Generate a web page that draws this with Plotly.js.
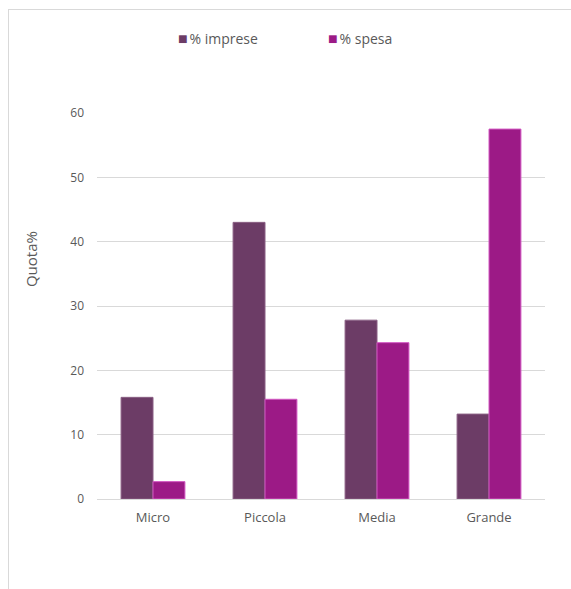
<!DOCTYPE html>
<html>
<head>
<meta charset="utf-8">
<script src="https://cdn.plot.ly/plotly-3.0.1.min.js"></script>
<style>
  html, body { margin: 0; padding: 0; background: #ffffff; }
  #frame { position: absolute; left: 8px; top: 9px; width: 600px; height: 620px;
           border-top: 1px solid #d9d9d9; border-left: 1px solid #d9d9d9; }
  #chart { position: absolute; left: 0; top: 0; width: 571px; height: 589px; }
</style>
</head>
<body>
<div id="frame"></div>
<div id="chart"></div>
<script>
// Quota per classe dimensionale d'impresa
const categories = ['Micro', 'Piccola', 'Media', 'Grande'];
const impreseValues = [15.8, 43.0, 27.8, 13.2];
const spesaValues = [2.7, 15.5, 24.3, 57.5];
const seriesNames = ['% imprese', '% spesa'];
const seriesColors = ['#6c3c66', '#9c1a86'];
const yTicks = [0, 10, 20, 30, 40, 50, 60];

const grey = '#595959';
const fam = 'Open Sans, Noto Sans, sans-serif';

const traces = [
  {
    type: 'bar', name: seriesNames[0], x: categories, y: impreseValues,
    marker: { color: seriesColors[0], line: { color: '#8a5f84', width: 1 } },
    hoverinfo: 'x+y'
  },
  {
    type: 'bar', name: seriesNames[1], x: categories, y: spesaValues,
    marker: { color: seriesColors[1], line: { color: '#d257c2', width: 1 } },
    hoverinfo: 'x+y'
  }
];

// compact legend: small square swatch followed by the series name
const legendX = [0.176, 0.512];
const legendAnnotations = seriesNames.map((name, i) => ({
  text: '<span style="color:' + seriesColors[i] + ';font-size:16px">■</span>' +
        '<span style="font-size:7px"> </span>' + name,
  xref: 'paper', yref: 'paper', x: legendX[i], y: 1.194,
  xanchor: 'left', yanchor: 'middle', showarrow: false,
  font: { family: fam, size: 14, color: grey }
}));

const layout = {
  width: 571, height: 589,
  margin: { l: 97, r: 26, t: 113, b: 90 },
  paper_bgcolor: 'rgba(0,0,0,0)',
  plot_bgcolor: 'rgba(0,0,0,0)',
  font: { family: fam, size: 12, color: grey },
  barmode: 'group',
  bargap: 0.43,
  bargroupgap: 0,
  showlegend: false,
  xaxis: {
    type: 'category', showgrid: false, zeroline: false, showline: false,
    ticks: '', ticklabelstandoff: 9,
    tickfont: { family: fam, size: 13, color: grey }
  },
  yaxis: {
    range: [0, 60], tickvals: yTicks, ticktext: yTicks.map(String),
    showgrid: true, gridcolor: '#d9d9d9', gridwidth: 1,
    zeroline: true, zerolinecolor: '#d9d9d9', zerolinewidth: 1,
    showline: false, ticks: '', ticklabelstandoff: 12,
    tickfont: { family: fam, size: 12, color: grey }
  },
  annotations: legendAnnotations.concat([
    {
      text: 'Quota%', xref: 'paper', yref: 'paper', x: -0.147, y: 0.622,
      xanchor: 'center', yanchor: 'middle', textangle: -90, showarrow: false,
      font: { family: fam, size: 15, color: grey }
    }
  ])
};

Plotly.newPlot('chart', traces, layout, { displayModeBar: false, staticPlot: true });
</script>
</body>
</html>
